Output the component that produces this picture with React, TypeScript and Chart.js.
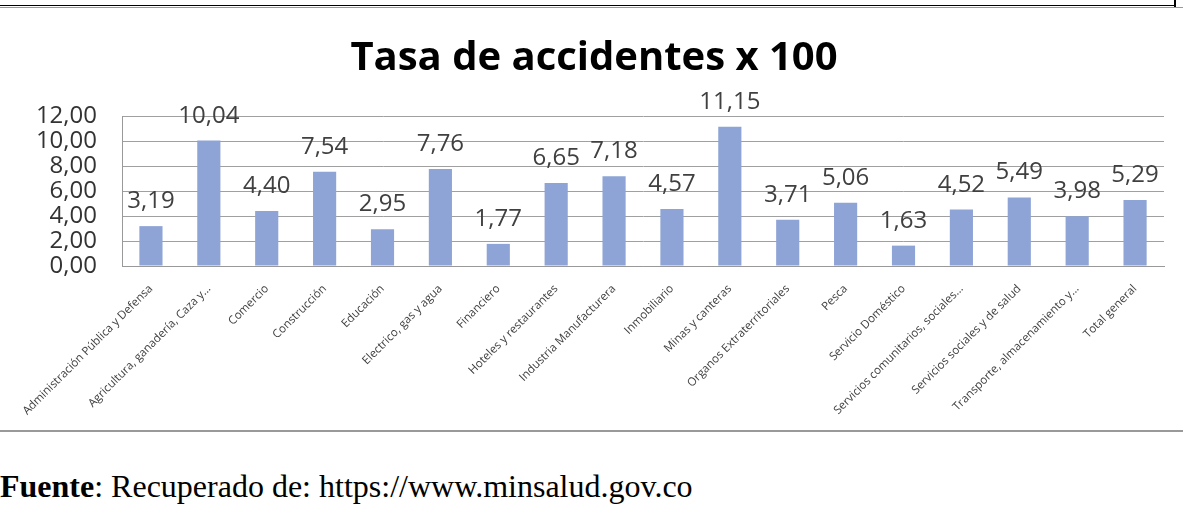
import React, { useEffect, useRef } from "react";
import { Chart, registerables } from "chart.js";

Chart.register(...registerables);

const categories: string[] = [
  "Administración Pública y Defensa",
  "Agricultura, ganadería, Caza y...",
  "Comercio",
  "Construcción",
  "Educación",
  "Electrico, gas y agua",
  "Financiero",
  "Hoteles y restaurantes",
  "Industria Manufacturera",
  "Inmobiliario",
  "Minas y canteras",
  "Organos Extraterritoriales",
  "Pesca",
  "Servicio Doméstico",
  "Servicios comunitarios, sociales...",
  "Servicios sociales y de salud",
  "Transporte, almacenamiento y...",
  "Total general",
];

const tasa: number[] = [
  3.19, 10.04, 4.4, 7.54, 2.95, 7.76, 1.77, 6.65, 7.18, 4.57, 11.15, 3.71, 5.06,
  1.63, 4.52, 5.49, 3.98, 5.29,
];

const yTicks: number[] = [0, 2, 4, 6, 8, 10, 12];

const chartTitle = "Tasa de accidentes x 100";

const fmt = (v: number) => v.toFixed(2).replace(".", ",");

const dataLabelPlugin = {
  id: "dataLabels",
  afterDatasetsDraw(chart: any) {
    const ctx = chart.ctx;
    const meta = chart.getDatasetMeta(0);
    ctx.save();
    ctx.font = "24px 'Open Sans'";
    ctx.fillStyle = "#404040";
    ctx.textAlign = "center";
    ctx.textBaseline = "alphabetic";
    meta.data.forEach((el: any, i: number) => {
      const v = chart.data.datasets[0].data[i];
      ctx.fillText(fmt(v), el.x, el.y - 18);
    });
    ctx.restore();
  },
};

function BarChart() {
  const ref = useRef<HTMLCanvasElement | null>(null);
  useEffect(() => {
    if (!ref.current) return;
    const chart = new Chart(ref.current, {
      type: "bar",
      data: {
        labels: categories,
        datasets: [
          {
            data: tasa,
            backgroundColor: "#8EA4D6",
            barPercentage: 0.4,
            categoryPercentage: 1.0,
          },
        ],
      },
      options: {
        responsive: false,
        animation: false,
        layout: { padding: { left: 24, right: 19, top: 0, bottom: 0 } },
        plugins: {
          legend: { display: false },
          tooltip: { enabled: false },
          title: {
            display: true,
            text: chartTitle,
            color: "#000000",
            font: { family: "'Open Sans'", weight: "bold", size: 40 },
            padding: { top: 25, bottom: 33 },
          },
        },
        scales: {
          x: {
            grid: { display: false },
            border: { display: true, color: "#999999", width: 1 },
            ticks: {
              autoSkip: false,
              minRotation: 45,
              maxRotation: 45,
              color: "#404040",
              font: { family: "'Open Sans'", size: 11.5 },
              padding: 8,
            },
            afterFit(scale: any) {
              scale.height = 164;
              scale.paddingLeft = 0;
              scale.paddingRight = 0;
            },
          },
          y: {
            min: 0,
            max: 12,
            afterBuildTicks(scale: any) {
              scale.ticks = yTicks.map((v) => ({ value: v }));
            },
            grid: { color: "#A0A0A0", drawTicks: false },
            border: { display: true, color: "#999999", width: 1 },
            ticks: {
              autoSkip: false,
              color: "#333333",
              font: { family: "'Open Sans'", size: 24 },
              padding: 25,
              callback: (v: any) => fmt(Number(v)),
            },
            afterFit(scale: any) {
              scale.width = 98;
            },
          },
        },
      },
      plugins: [dataLabelPlugin],
    });
    return () => chart.destroy();
  }, []);
  return <canvas ref={ref} width={1183} height={420} style={{ display: "block" }} />;
}

export default function App() {
  return (
    <div
      style={{
        position: "absolute",
        left: 0,
        top: 0,
        width: 1183,
        height: 510,
        background: "#ffffff",
        overflow: "hidden",
      }}
    >
      <div style={{ position: "absolute", left: 0, top: 5, width: 1176, height: 0, borderTop: "1.5px solid #000" }} />
      <div style={{ position: "absolute", left: 1174, top: 0, width: 2, height: 7, background: "#000" }} />
      <div style={{ position: "absolute", left: 0, top: 7, width: 1183, height: 1, background: "#999" }} />
      <div style={{ position: "absolute", left: 0, top: 10 }}>
        <BarChart />
      </div>
      <div style={{ position: "absolute", left: 0, top: 430, width: 1183, height: 1.5, background: "#999" }} />
      <div
        style={{
          position: "absolute",
          left: 0,
          top: 468,
          fontFamily: "'Liberation Serif', serif",
          fontSize: 32,
          color: "#000",
          whiteSpace: "nowrap",
          lineHeight: "36px",
        }}
      >
        <b>Fuente</b>: Recuperado de: https://www.minsalud.gov.co
      </div>
    </div>
  );
}
